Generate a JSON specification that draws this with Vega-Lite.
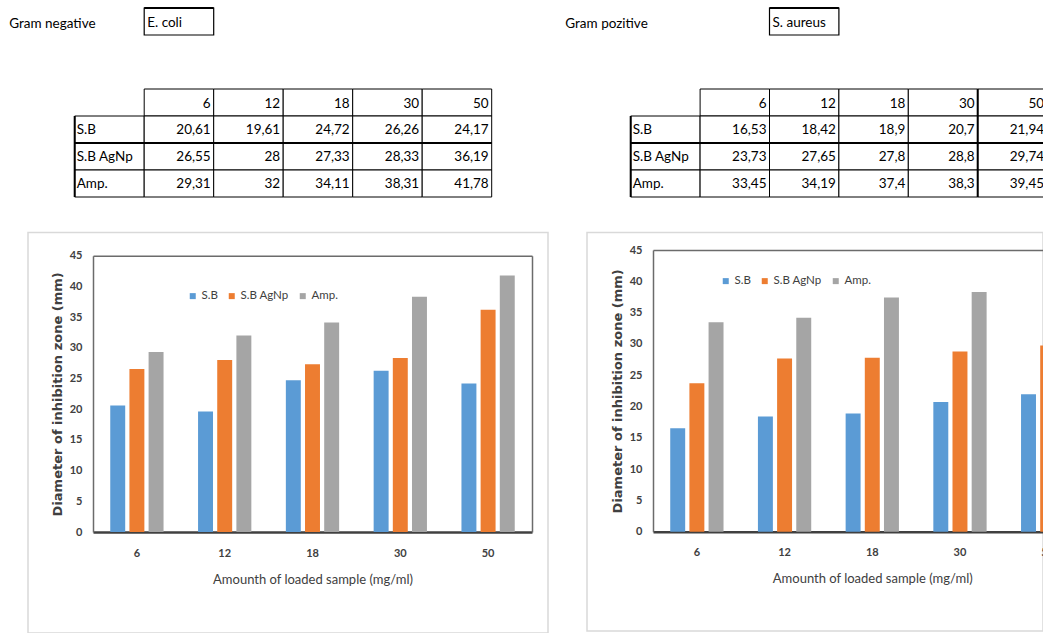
{
  "$schema": "https://vega.github.io/schema/vega-lite/v6.json",
  "background": "white",
  "padding": {"left": 5, "top": 7, "right": 0, "bottom": 0},
  "bounds": "flush",
  "columns": 2,
  "spacing": {"row": 35.5, "column": 39},
  "resolve": {"scale": {"color": "independent"}, "legend": {"color": "independent"}},
  "config": {
    "font": "Lato",
    "locale": {"number": {"decimal": ",", "thousands": ".", "grouping": [3], "currency": ["", ""]}},
    "view": {"stroke": null},
    "text": {"fontSize": 13.5, "color": "#000000", "baseline": "middle"},
    "rule": {"color": "#000000", "strokeWidth": 2}
  },
  "datasets": {
    "zones": [
      {"organism": "E. coli", "gram": "Gram negative", "sample": "S.B", "conc": 6, "value": 20.61},
      {"organism": "E. coli", "gram": "Gram negative", "sample": "S.B", "conc": 12, "value": 19.61},
      {"organism": "E. coli", "gram": "Gram negative", "sample": "S.B", "conc": 18, "value": 24.72},
      {"organism": "E. coli", "gram": "Gram negative", "sample": "S.B", "conc": 30, "value": 26.26},
      {"organism": "E. coli", "gram": "Gram negative", "sample": "S.B", "conc": 50, "value": 24.17},
      {"organism": "E. coli", "gram": "Gram negative", "sample": "S.B AgNp", "conc": 6, "value": 26.55},
      {"organism": "E. coli", "gram": "Gram negative", "sample": "S.B AgNp", "conc": 12, "value": 28},
      {"organism": "E. coli", "gram": "Gram negative", "sample": "S.B AgNp", "conc": 18, "value": 27.33},
      {"organism": "E. coli", "gram": "Gram negative", "sample": "S.B AgNp", "conc": 30, "value": 28.33},
      {"organism": "E. coli", "gram": "Gram negative", "sample": "S.B AgNp", "conc": 50, "value": 36.19},
      {"organism": "E. coli", "gram": "Gram negative", "sample": "Amp.", "conc": 6, "value": 29.31},
      {"organism": "E. coli", "gram": "Gram negative", "sample": "Amp.", "conc": 12, "value": 32},
      {"organism": "E. coli", "gram": "Gram negative", "sample": "Amp.", "conc": 18, "value": 34.11},
      {"organism": "E. coli", "gram": "Gram negative", "sample": "Amp.", "conc": 30, "value": 38.31},
      {"organism": "E. coli", "gram": "Gram negative", "sample": "Amp.", "conc": 50, "value": 41.78},
      {"organism": "S. aureus", "gram": "Gram pozitive", "sample": "S.B", "conc": 6, "value": 16.53},
      {"organism": "S. aureus", "gram": "Gram pozitive", "sample": "S.B", "conc": 12, "value": 18.42},
      {"organism": "S. aureus", "gram": "Gram pozitive", "sample": "S.B", "conc": 18, "value": 18.9},
      {"organism": "S. aureus", "gram": "Gram pozitive", "sample": "S.B", "conc": 30, "value": 20.7},
      {"organism": "S. aureus", "gram": "Gram pozitive", "sample": "S.B", "conc": 50, "value": 21.94},
      {"organism": "S. aureus", "gram": "Gram pozitive", "sample": "S.B AgNp", "conc": 6, "value": 23.73},
      {"organism": "S. aureus", "gram": "Gram pozitive", "sample": "S.B AgNp", "conc": 12, "value": 27.65},
      {"organism": "S. aureus", "gram": "Gram pozitive", "sample": "S.B AgNp", "conc": 18, "value": 27.8},
      {"organism": "S. aureus", "gram": "Gram pozitive", "sample": "S.B AgNp", "conc": 30, "value": 28.8},
      {"organism": "S. aureus", "gram": "Gram pozitive", "sample": "S.B AgNp", "conc": 50, "value": 29.74},
      {"organism": "S. aureus", "gram": "Gram pozitive", "sample": "Amp.", "conc": 6, "value": 33.45},
      {"organism": "S. aureus", "gram": "Gram pozitive", "sample": "Amp.", "conc": 12, "value": 34.19},
      {"organism": "S. aureus", "gram": "Gram pozitive", "sample": "Amp.", "conc": 18, "value": 37.4},
      {"organism": "S. aureus", "gram": "Gram pozitive", "sample": "Amp.", "conc": 30, "value": 38.3},
      {"organism": "S. aureus", "gram": "Gram pozitive", "sample": "Amp.", "conc": 50, "value": 39.45}
    ]
  },
  "concat": [
    {
      "width": 520,
      "height": 189,
      "data": {"name": "zones"},
      "transform": [{"filter": "datum.organism === 'E. coli'"}],
      "layer": [
        {
          "transform": [{"aggregate": [{"op": "count", "as": "n"}], "groupby": ["organism", "gram"]}],
          "mark": {"type": "rect", "fill": "white", "strokeWidth": 0},
          "encoding": {
            "x": {"datum": "pre", "type": "nominal", "scale": {"domain": ["pre", "label", 6, 12, 18, 30, 50], "range": [-22.8, 463.7], "paddingInner": 0, "paddingOuter": 0}, "axis": null},
            "y": {"datum": "title", "type": "nominal", "scale": {"domain": ["title", "r2", "r3", "head", "S.B", "S.B AgNp", "Amp."], "range": [0, 189], "paddingInner": 0, "paddingOuter": 0}, "axis": null}
          }
        },
        {
          "transform": [{"aggregate": [{"op": "count", "as": "n"}], "groupby": ["organism", "gram"]}],
          "mark": {"type": "text", "align": "left", "dx": 4, "dy": 2},
          "encoding": {
            "x": {"datum": "pre", "type": "nominal", "bandPosition": 0},
            "y": {"datum": "title", "type": "nominal"},
            "text": {"field": "gram", "type": "nominal"}
          }
        },
        {
          "transform": [{"aggregate": [{"op": "count", "as": "n"}], "groupby": ["organism", "gram"]}],
          "mark": {"type": "rect", "fill": "white", "stroke": "#000000", "strokeWidth": 1.2},
          "encoding": {
            "x": {"datum": 6, "type": "nominal"},
            "y": {"datum": "title", "type": "nominal"}
          }
        },
        {
          "transform": [{"aggregate": [{"op": "count", "as": "n"}], "groupby": ["organism"]}],
          "mark": {"type": "rule"},
          "encoding": {
            "x": {"datum": 6, "type": "nominal", "bandPosition": 0},
            "x2": {"datum": 6, "bandPosition": 1},
            "y": {"datum": "title", "type": "nominal", "bandPosition": 0}
          }
        },
        {
          "transform": [{"aggregate": [{"op": "count", "as": "n"}], "groupby": ["organism", "gram"]}],
          "mark": {"type": "text", "align": "left", "dx": 3, "dy": 1.5},
          "encoding": {
            "x": {"datum": 6, "type": "nominal", "bandPosition": 0},
            "y": {"datum": "title", "type": "nominal"},
            "text": {"field": "organism", "type": "nominal"}
          }
        },
        {
          "transform": [{"aggregate": [{"op": "count", "as": "n"}], "groupby": ["conc"]}],
          "mark": {"type": "rect", "fill": "white", "stroke": "#000000", "strokeWidth": 1},
          "encoding": {
            "x": {"field": "conc", "type": "nominal"},
            "y": {"datum": "head", "type": "nominal"}
          }
        },
        {
          "transform": [{"aggregate": [{"op": "count", "as": "n"}], "groupby": ["conc"]}],
          "mark": {"type": "text", "align": "right", "dx": -3, "dy": 1.5},
          "encoding": {
            "x": {"field": "conc", "type": "nominal", "bandPosition": 1},
            "y": {"datum": "head", "type": "nominal"},
            "text": {"field": "conc", "type": "nominal"}
          }
        },
        {
          "transform": [{"aggregate": [{"op": "count", "as": "n"}], "groupby": ["sample"]}],
          "mark": {"type": "rect", "fill": "white", "stroke": "#000000", "strokeWidth": 1},
          "encoding": {
            "x": {"datum": "label", "type": "nominal"},
            "y": {"field": "sample", "type": "nominal"}
          }
        },
        {
          "transform": [{"aggregate": [{"op": "count", "as": "n"}], "groupby": ["sample"]}],
          "mark": {"type": "text", "align": "left", "dx": 2},
          "encoding": {
            "x": {"datum": "label", "type": "nominal", "bandPosition": 0},
            "y": {"field": "sample", "type": "nominal"},
            "text": {"field": "sample", "type": "nominal"}
          }
        },
        {
          "mark": {"type": "rect", "fill": "white", "stroke": "#000000", "strokeWidth": 1},
          "encoding": {
            "x": {"field": "conc", "type": "nominal"},
            "y": {"field": "sample", "type": "nominal"}
          }
        },
        {
          "mark": {"type": "text", "align": "right", "dx": -3},
          "encoding": {
            "x": {"field": "conc", "type": "nominal", "bandPosition": 1},
            "y": {"field": "sample", "type": "nominal"},
            "text": {"field": "value", "type": "quantitative", "format": ".4~g"}
          }
        },
        {
          "transform": [{"aggregate": [{"op": "count", "as": "n"}], "groupby": ["organism"]}],
          "mark": {"type": "rule"},
          "encoding": {
            "x": {"datum": "label", "type": "nominal", "bandPosition": 0},
            "x2": {"datum": 50, "bandPosition": 1},
            "y": {"datum": "S.B AgNp", "type": "nominal", "bandPosition": 0}
          }
        },
        {
          "transform": [{"aggregate": [{"op": "count", "as": "n"}], "groupby": ["organism"]}],
          "mark": {"type": "rule"},
          "encoding": {
            "x": {"datum": "label", "type": "nominal", "bandPosition": 0},
            "y": {"datum": "S.B", "type": "nominal", "bandPosition": 0},
            "y2": {"datum": "Amp.", "bandPosition": 1}
          }
        }
      ]
    },
    {
      "width": 456,
      "height": 189,
      "data": {"name": "zones"},
      "transform": [{"filter": "datum.organism === 'S. aureus'"}],
      "layer": [
        {
          "transform": [{"aggregate": [{"op": "count", "as": "n"}], "groupby": ["organism", "gram"]}],
          "mark": {"type": "text", "align": "left", "dx": 4, "dy": 2},
          "encoding": {
            "x": {"datum": "pre", "type": "nominal", "bandPosition": 0, "scale": {"domain": ["pre", "label", 6, 12, 18, 30, 50], "range": [-25.7, 460.1], "paddingInner": 0, "paddingOuter": 0}, "axis": null},
            "y": {"datum": "title", "type": "nominal", "scale": {"domain": ["title", "r2", "r3", "head", "S.B", "S.B AgNp", "Amp."], "range": [0, 189], "paddingInner": 0, "paddingOuter": 0}, "axis": null},
            "text": {"field": "gram", "type": "nominal"}
          }
        },
        {
          "transform": [{"aggregate": [{"op": "count", "as": "n"}], "groupby": ["organism", "gram"]}],
          "mark": {"type": "rect", "fill": "white", "stroke": "#000000", "strokeWidth": 1.2},
          "encoding": {
            "x": {"datum": 12, "type": "nominal"},
            "y": {"datum": "title", "type": "nominal"}
          }
        },
        {
          "transform": [{"aggregate": [{"op": "count", "as": "n"}], "groupby": ["organism"]}],
          "mark": {"type": "rule"},
          "encoding": {
            "x": {"datum": 12, "type": "nominal", "bandPosition": 0},
            "x2": {"datum": 12, "bandPosition": 1},
            "y": {"datum": "title", "type": "nominal", "bandPosition": 0}
          }
        },
        {
          "transform": [{"aggregate": [{"op": "count", "as": "n"}], "groupby": ["organism", "gram"]}],
          "mark": {"type": "text", "align": "left", "dx": 3, "dy": 1.5},
          "encoding": {
            "x": {"datum": 12, "type": "nominal", "bandPosition": 0},
            "y": {"datum": "title", "type": "nominal"},
            "text": {"field": "organism", "type": "nominal"}
          }
        },
        {
          "transform": [{"aggregate": [{"op": "count", "as": "n"}], "groupby": ["conc"]}],
          "mark": {"type": "rect", "fill": "white", "stroke": "#000000", "strokeWidth": 1},
          "encoding": {
            "x": {"field": "conc", "type": "nominal"},
            "y": {"datum": "head", "type": "nominal"}
          }
        },
        {
          "transform": [{"aggregate": [{"op": "count", "as": "n"}], "groupby": ["conc"]}],
          "mark": {"type": "text", "align": "right", "dx": -3, "dy": 1.5},
          "encoding": {
            "x": {"field": "conc", "type": "nominal", "bandPosition": 1},
            "y": {"datum": "head", "type": "nominal"},
            "text": {"field": "conc", "type": "nominal"}
          }
        },
        {
          "transform": [{"aggregate": [{"op": "count", "as": "n"}], "groupby": ["sample"]}],
          "mark": {"type": "rect", "fill": "white", "stroke": "#000000", "strokeWidth": 1},
          "encoding": {
            "x": {"datum": "label", "type": "nominal"},
            "y": {"field": "sample", "type": "nominal"}
          }
        },
        {
          "transform": [{"aggregate": [{"op": "count", "as": "n"}], "groupby": ["sample"]}],
          "mark": {"type": "text", "align": "left", "dx": 2},
          "encoding": {
            "x": {"datum": "label", "type": "nominal", "bandPosition": 0},
            "y": {"field": "sample", "type": "nominal"},
            "text": {"field": "sample", "type": "nominal"}
          }
        },
        {
          "mark": {"type": "rect", "fill": "white", "stroke": "#000000", "strokeWidth": 1},
          "encoding": {
            "x": {"field": "conc", "type": "nominal"},
            "y": {"field": "sample", "type": "nominal"}
          }
        },
        {
          "mark": {"type": "text", "align": "right", "dx": -3},
          "encoding": {
            "x": {"field": "conc", "type": "nominal", "bandPosition": 1},
            "y": {"field": "sample", "type": "nominal"},
            "text": {"field": "value", "type": "quantitative", "format": ".4~g"}
          }
        },
        {
          "transform": [{"aggregate": [{"op": "count", "as": "n"}], "groupby": ["organism"]}],
          "mark": {"type": "rule"},
          "encoding": {
            "x": {"datum": "label", "type": "nominal", "bandPosition": 0},
            "x2": {"datum": 50, "bandPosition": 1},
            "y": {"datum": "S.B AgNp", "type": "nominal", "bandPosition": 0}
          }
        },
        {
          "transform": [{"aggregate": [{"op": "count", "as": "n"}], "groupby": ["organism"]}],
          "mark": {"type": "rule"},
          "encoding": {
            "x": {"datum": "label", "type": "nominal", "bandPosition": 0},
            "y": {"datum": "S.B", "type": "nominal", "bandPosition": 0},
            "y2": {"datum": "Amp.", "bandPosition": 1}
          }
        },
        {
          "transform": [{"aggregate": [{"op": "count", "as": "n"}], "groupby": ["organism"]}],
          "mark": {"type": "rule"},
          "encoding": {
            "x": {"datum": 50, "type": "nominal", "bandPosition": 0},
            "y": {"datum": "head", "type": "nominal", "bandPosition": 0},
            "y2": {"datum": "Amp.", "bandPosition": 1}
          }
        }
      ]
    },
    {
      "width": 520,
      "height": 400.5,
      "view": {"stroke": "#d9d9d9", "strokeWidth": 1.5},
      "data": {"name": "zones"},
      "transform": [{"filter": "datum.organism === 'E. coli'"}],
      "layer": [
        {
          "mark": {"type": "bar"},
          "encoding": {
            "x": {
              "field": "conc", "type": "nominal",
              "scale": {"domain": [6, 12, 18, 30, 50], "range": [65, 504], "paddingInner": 0.393, "paddingOuter": 0.1965},
              "axis": {"orient": "bottom", "offset": -101, "domainColor": "#404040", "domainWidth": 2.5, "ticks": false, "labelAngle": 0, "labelPadding": 15, "labelFontWeight": "bold", "labelFontSize": 11, "labelColor": "#404040", "title": "Amounth of loaded sample (mg/ml)", "titleFontWeight": "normal", "titleFontSize": 13, "titlePadding": 15, "titleColor": "#404040"}
            },
            "xOffset": {"field": "sample", "type": "nominal", "scale": {"domain": ["S.B", "S.B AgNp", "Amp."], "paddingInner": 0.22, "paddingOuter": 0}},
            "y": {
              "field": "value", "type": "quantitative",
              "scale": {"domain": [0, 45], "range": [299.5, 23.2], "nice": false, "zero": true},
              "axis": {"orient": "left", "offset": -65, "values": [0, 5, 10, 15, 20, 25, 30, 35, 40, 45], "grid": false, "ticks": false, "domainColor": "#6b6b6b", "domainWidth": 1.5, "labelPadding": 11, "labelFontWeight": "bold", "labelFontSize": 11, "labelColor": "#404040", "title": "Diameter of inhibition zone (mm)", "titleFont": "DejaVu Sans", "titleFontSize": 13, "titleFontWeight": "bold", "titleColor": "#404040", "titlePadding": 5}
            },
            "color": {
              "field": "sample", "type": "nominal",
              "scale": {"domain": ["S.B", "S.B AgNp", "Amp."], "range": ["#5B9BD5", "#ED7D31", "#A5A5A5"]},
              "legend": {"orient": "none", "legendX": 159, "legendY": 57.5, "direction": "horizontal", "title": null, "symbolType": "square", "symbolSize": 36, "symbolStrokeWidth": 0, "labelFontSize": 11.5, "labelColor": "#404040", "labelOffset": 3, "columnPadding": 8, "padding": 0}
            }
          }
        },
        {
          "mark": {"type": "point", "opacity": 0},
          "encoding": {
            "x": {"field": "conc", "type": "nominal", "axis": {"orient": "top", "offset": -23.2, "labels": false, "ticks": false, "domainColor": "#6b6b6b", "domainWidth": 1.5, "title": null}},
            "y": {"field": "value", "type": "quantitative", "axis": {"orient": "right", "offset": -16, "labels": false, "ticks": false, "grid": false, "domainColor": "#6b6b6b", "domainWidth": 1.5, "title": null}}
          }
        }
      ],
      "resolve": {"axis": {"x": "independent", "y": "independent"}}
    },
    {
      "width": 456,
      "height": 398.5,
      "view": {"stroke": "#d9d9d9", "strokeWidth": 1.5},
      "data": {"name": "zones"},
      "transform": [{"filter": "datum.organism === 'S. aureus'"}],
      "layer": [
        {
          "mark": {"type": "bar"},
          "encoding": {
            "x": {
              "field": "conc", "type": "nominal",
              "scale": {"domain": [6, 12, 18, 30, 50], "range": [66, 504.5], "paddingInner": 0.393, "paddingOuter": 0.1965},
              "axis": {"orient": "bottom", "offset": -99.3, "domainColor": "#404040", "domainWidth": 2.5, "ticks": false, "labelAngle": 0, "labelPadding": 15, "labelFontWeight": "bold", "labelFontSize": 11, "labelColor": "#404040", "title": "Amounth of loaded sample (mg/ml)", "titleFontWeight": "normal", "titleFontSize": 13, "titlePadding": 15, "titleColor": "#404040"}
            },
            "xOffset": {"field": "sample", "type": "nominal", "scale": {"domain": ["S.B", "S.B AgNp", "Amp."], "paddingInner": 0.22, "paddingOuter": 0}},
            "y": {
              "field": "value", "type": "quantitative",
              "scale": {"domain": [0, 45], "range": [299.2, 17.5], "nice": false, "zero": true},
              "axis": {"orient": "left", "offset": -66, "values": [0, 5, 10, 15, 20, 25, 30, 35, 40, 45], "grid": false, "ticks": false, "domainColor": "#6b6b6b", "domainWidth": 1.5, "labelPadding": 11, "labelFontWeight": "bold", "labelFontSize": 11, "labelColor": "#404040", "title": "Diameter of inhibition zone (mm)", "titleFont": "DejaVu Sans", "titleFontSize": 13, "titleFontWeight": "bold", "titleColor": "#404040", "titlePadding": 5}
            },
            "color": {
              "field": "sample", "type": "nominal",
              "scale": {"domain": ["S.B", "S.B AgNp", "Amp."], "range": ["#5B9BD5", "#ED7D31", "#A5A5A5"]},
              "legend": {"orient": "none", "legendX": 133, "legendY": 42.5, "direction": "horizontal", "title": null, "symbolType": "square", "symbolSize": 36, "symbolStrokeWidth": 0, "labelFontSize": 11.5, "labelColor": "#404040", "labelOffset": 3, "columnPadding": 8, "padding": 0}
            }
          }
        },
        {
          "mark": {"type": "point", "opacity": 0},
          "encoding": {
            "x": {"field": "conc", "type": "nominal", "axis": {"orient": "top", "offset": -17.5, "labels": false, "ticks": false, "domainColor": "#6b6b6b", "domainWidth": 1.5, "title": null}},
            "y": {"field": "value", "type": "quantitative", "axis": {"orient": "right", "offset": 48.5, "labels": false, "ticks": false, "grid": false, "domainColor": "#6b6b6b", "domainWidth": 1.5, "title": null}}
          }
        }
      ],
      "resolve": {"axis": {"x": "independent", "y": "independent"}}
    }
  ]
}
